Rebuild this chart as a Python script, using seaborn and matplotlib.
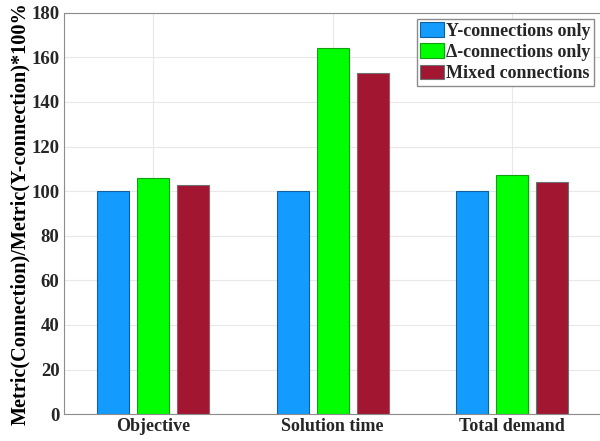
import numpy as np
import pandas as pd
import seaborn as sns
import matplotlib.pyplot as plt
from matplotlib.patches import Patch

# Datos
categorias = ["Objective", "Solution time", "Total demand"]
series = ["Y-connections only", "\u0394-connections only", "Mixed connections"]
y_only = [100.0, 100.0, 100.0]
delta_only = [105.8, 164.3, 107.1]
mixed = [102.9, 153.0, 104.0]

colores = ["#139CFE", "#00FF00", "#A21632"]
bordes = ["#1060A0", "#10A010", "#707070"]

tabla = pd.DataFrame({
    "categoria": categorias * 3,
    "serie": [s for s in series for _ in categorias],
    "valor": y_only + delta_only + mixed,
})

sns.set_style("white")
plt.rcParams["font.family"] = ["Liberation Serif", "DejaVu Serif"]
plt.rcParams["font.weight"] = "bold"

fig = plt.figure(figsize=(6.0, 4.41), dpi=100)
ax = fig.add_axes([0.106, 0.061, 0.897, 0.91])

sns.barplot(
    data=tabla, x="categoria", y="valor", hue="serie",
    order=categorias, hue_order=series, palette=colores,
    width=0.67, gap=0.2, saturation=1, ax=ax, legend=False,
)

for i, cont in enumerate(ax.containers):
    for barra in cont:
        barra.set_edgecolor(bordes[i])
        barra.set_linewidth(0.8)

ax.set_xlim(-0.5, 2.5)
ax.set_ylim(0, 180)
ax.set_yticks(np.arange(0, 181, 20))
ax.grid(True, color="#e8e8e8", linewidth=0.8)
ax.set_axisbelow(True)
for lado in ["top", "right", "left", "bottom"]:
    ax.spines[lado].set_color("#8c8c8c")
    ax.spines[lado].set_linewidth(0.8)

ax.tick_params(axis="both", direction="in", length=3, color="#8c8c8c",
               colors="#262626", pad=3)
ax.tick_params(axis="y", labelsize=13.5)
ax.tick_params(axis="x", labelsize=13)
for t in ax.get_xticklabels() + ax.get_yticklabels():
    t.set_fontweight("bold")
ax.set_xlabel("")
ax.set_ylabel("Metric(Connection)/Metric(Y-connection)*100%",
              fontsize=14.6, fontweight="bold", color="black", labelpad=1)

manejadores = [Patch(facecolor=c, edgecolor=b, linewidth=0.8) for c, b in zip(colores, bordes)]
ax.legend(manejadores, series, loc="upper right", bbox_to_anchor=(0.985, 0.985),
          prop={"size": 13, "weight": "bold"}, frameon=True, fancybox=False,
          edgecolor="#8c8c8c", framealpha=1, borderpad=0.2, labelspacing=0.2,
          handlelength=1.3, handleheight=0.85, handletextpad=0.1, borderaxespad=0.0)

fig.savefig("out.png", dpi=100)
